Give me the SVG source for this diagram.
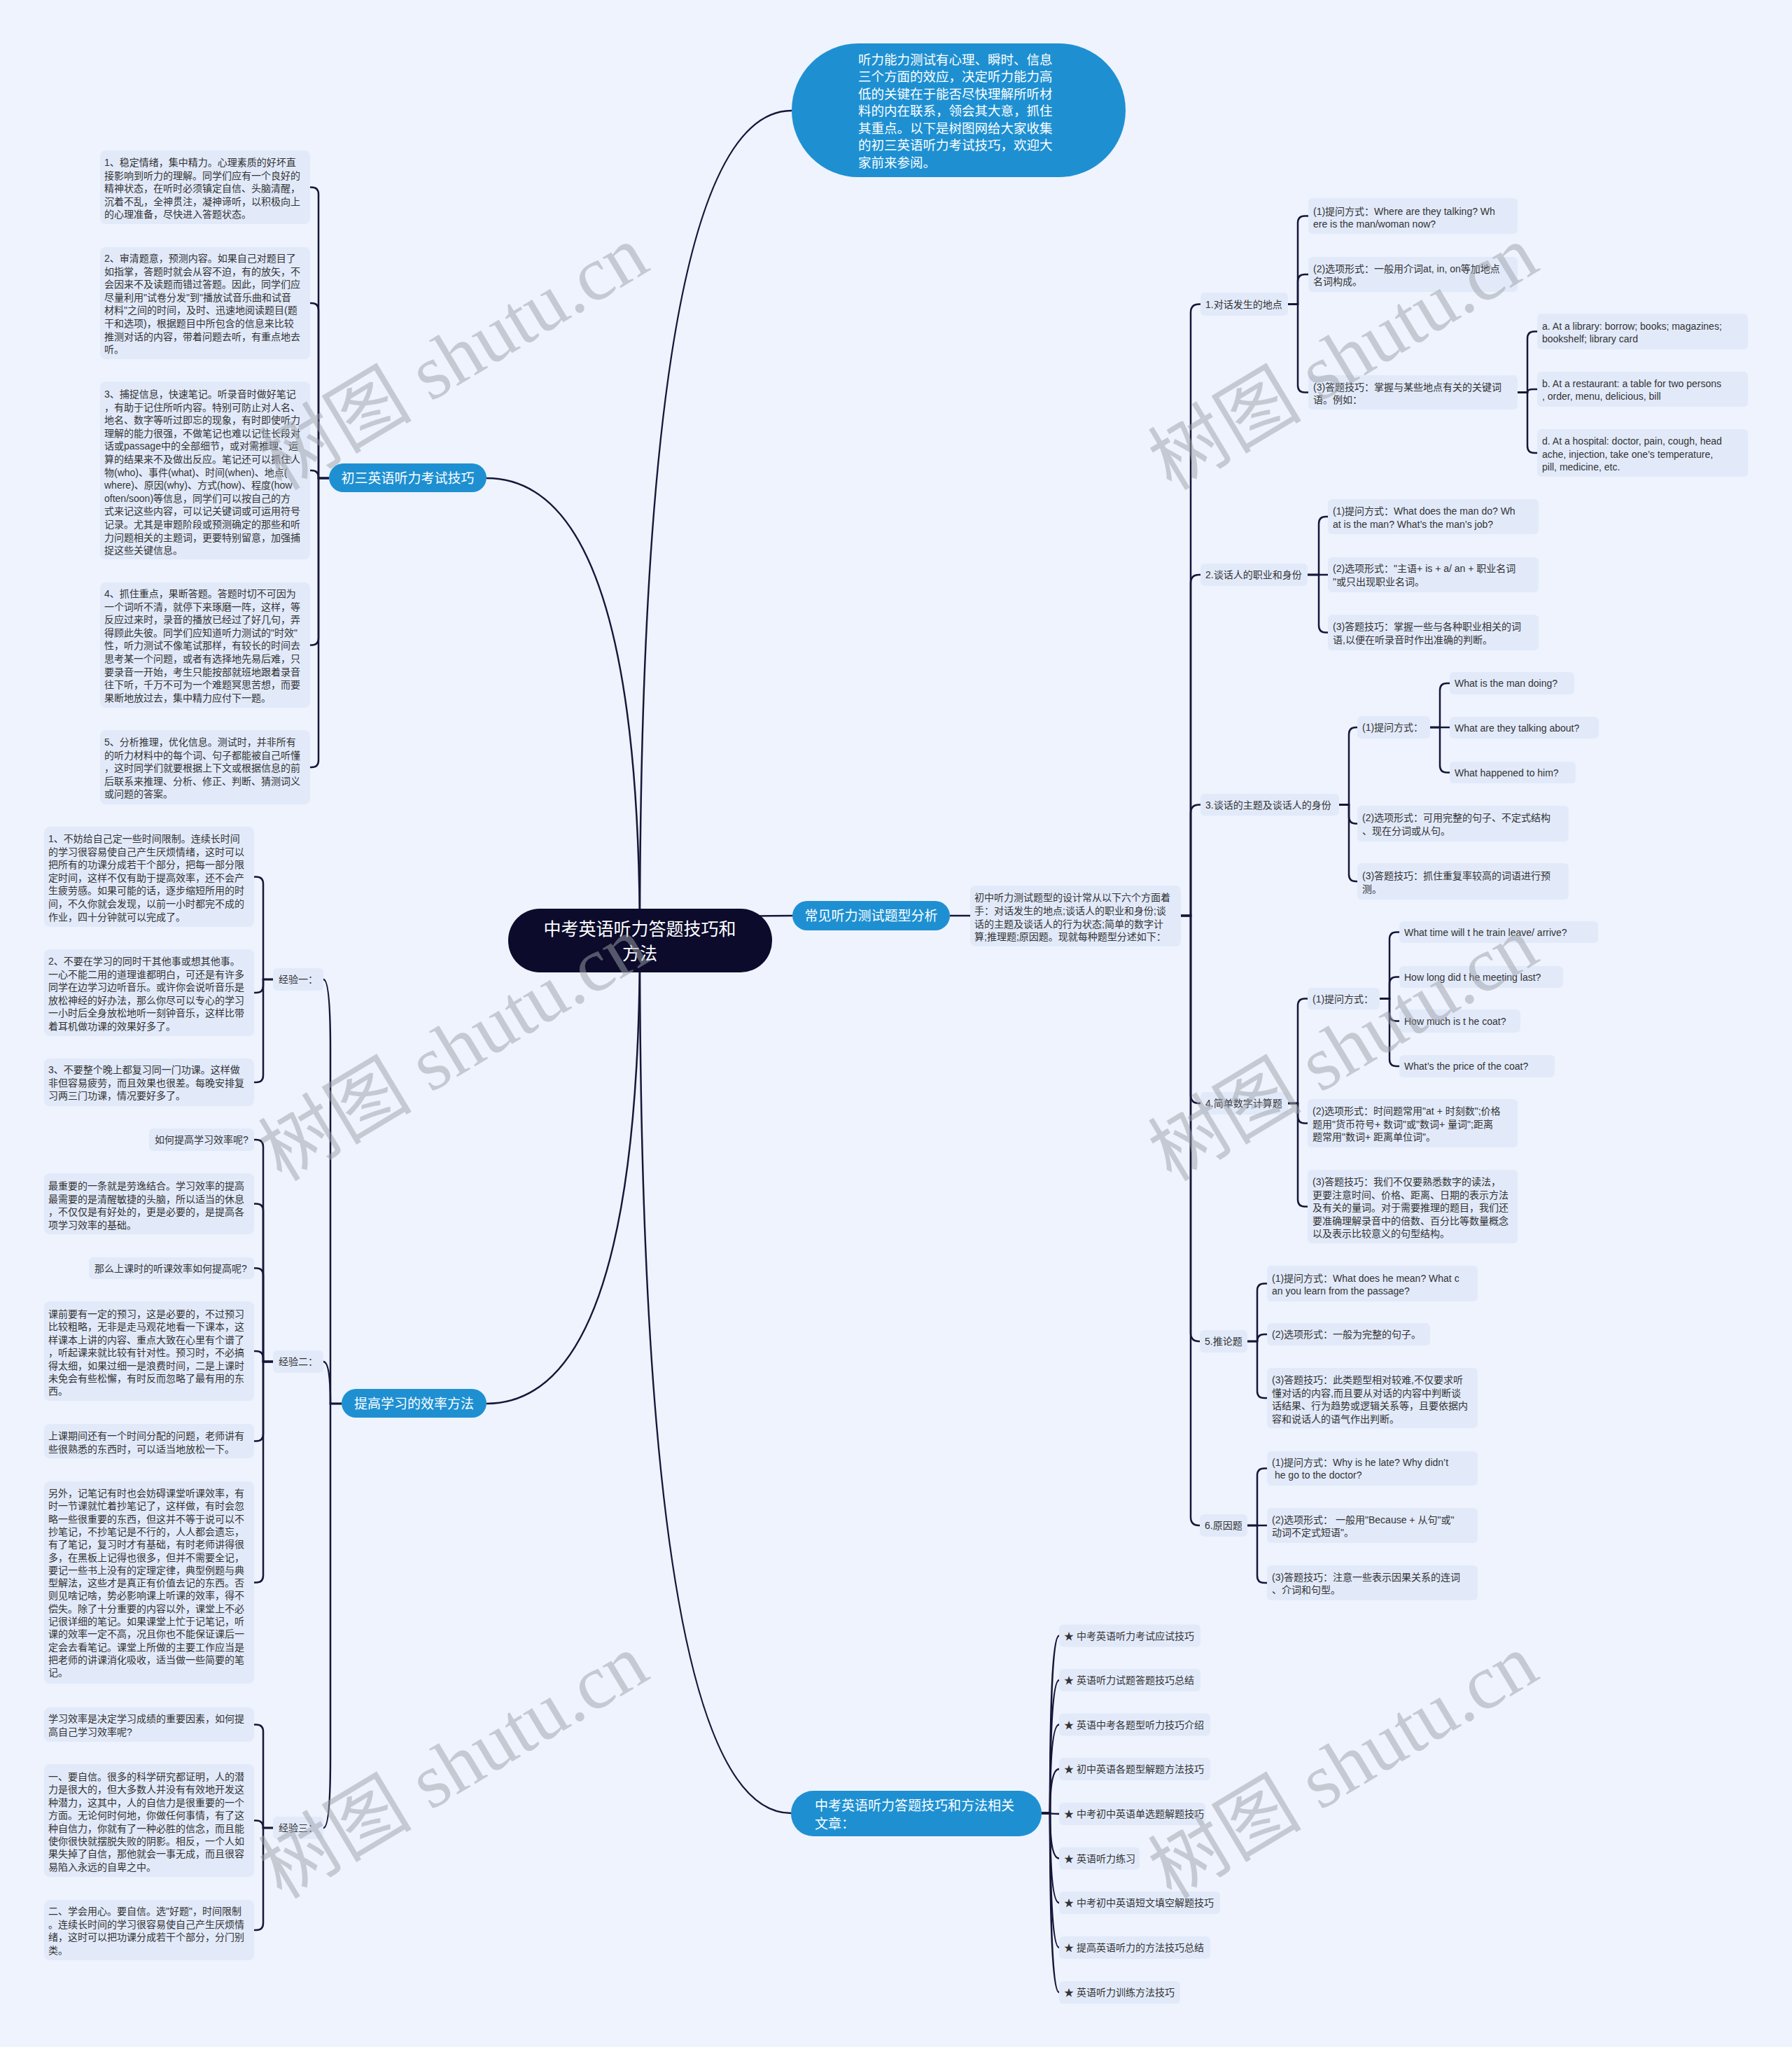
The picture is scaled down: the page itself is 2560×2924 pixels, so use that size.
<svg xmlns="http://www.w3.org/2000/svg" width="2560" height="2924" viewBox="0 0 2560 2924">
<defs>
<style>
.bg{fill:#EEF3FD}
.box{fill:#E2EAFA}
.t{font-family:"Liberation Sans","Noto Sans CJK SC",sans-serif;font-size:14px;fill:#333}
.pill{fill:#1E90D2}
.pt{font-family:"Liberation Sans","Noto Sans CJK SC",sans-serif;font-size:19px;fill:#fff}
.c{fill:none;stroke:#16163a;stroke-width:2.5}
.wm{font-family:"Liberation Serif","Noto Sans CJK SC",serif;font-size:110px;fill:#9ea2a9;opacity:0.5}
</style>
</defs>
<rect class="bg" x="0" y="0" width="2560" height="2924"/>

<g id="connectors">
<!-- root -->
<path class="c" d="M914 1343 Q914 158 1131 158"/>
<path class="c" d="M914 1343 Q914 1308 1132 1308"/>
<path class="c" d="M914 1343 Q914 2590 1130 2590"/>
<path class="c" d="M914 1343 Q914 683 695 683"/>
<path class="c" d="M914 1343 Q914 2005 695 2005"/>
<!-- branch to intro -->
<path class="c" d="M1357 1308 H1386"/>
<!-- main spine -->
<path class="c" d="M1687 1308 H1701 V446.5 Q1701 434.5 1713 434.5 H1715"/>
<path class="c" d="M1687 1308 H1701 V833 Q1701 821 1713 821 H1715"/>
<path class="c" d="M1687 1308 H1701 V1161.5 Q1701 1149.5 1713 1149.5 H1715"/>
<path class="c" d="M1687 1308 H1701 V1564 Q1701 1576 1713 1576 H1715"/>
<path class="c" d="M1687 1308 H1701 V1904 Q1701 1916 1713 1916 H1715"/>
<path class="c" d="M1687 1308 H1701 V2167 Q1701 2179 1713 2179 H1715"/>
<!-- I1 -->
<path class="c" d="M1840 434.5 H1854 V318.5 Q1854 308.5 1864 308.5 H1869"/>
<path class="c" d="M1840 434.5 H1854 V402 Q1854 392 1864 392 H1869"/>
<path class="c" d="M1840 434.5 H1854 V550.5 Q1854 560.5 1864 560.5 H1869"/>
<path class="c" d="M2168 560.5 H2182 V483.5 Q2182 473.5 2192 473.5 H2196"/>
<path class="c" d="M2168 560.5 H2182 Q2182 556 2190 556 H2196"/>
<path class="c" d="M2168 560.5 H2182 V637 Q2182 647 2192 647 H2196"/>
<!-- I2 -->
<path class="c" d="M1868 821 H1884 V748 Q1884 738 1894 738 H1897"/>
<path class="c" d="M1868 821 H1897"/>
<path class="c" d="M1868 821 H1884 V893.5 Q1884 903.5 1894 903.5 H1897"/>
<!-- I3 -->
<path class="c" d="M1913 1149.5 H1927 V1049 Q1927 1039 1937 1039 H1939"/>
<path class="c" d="M1913 1149.5 H1927 V1166.5 Q1927 1176.5 1937 1176.5 H1939"/>
<path class="c" d="M1913 1149.5 H1927 V1249 Q1927 1259 1937 1259 H1939"/>
<path class="c" d="M2043 1039 H2057 V986 Q2057 976 2067 976 H2071"/>
<path class="c" d="M2043 1039 H2071"/>
<path class="c" d="M2043 1039 H2057 V1093.5 Q2057 1103.5 2067 1103.5 H2071"/>
<!-- I4 -->
<path class="c" d="M1840 1576 H1854 V1436.5 Q1854 1426.5 1864 1426.5 H1868"/>
<path class="c" d="M1840 1576 H1854 V1594.5 Q1854 1604.5 1864 1604.5 H1868"/>
<path class="c" d="M1840 1576 H1854 V1713.5 Q1854 1723.5 1864 1723.5 H1868"/>
<path class="c" d="M1971 1426.5 H1985 V1341.5 Q1985 1331.5 1995 1331.5 H1999"/>
<path class="c" d="M1971 1426.5 H1985 V1405.5 Q1985 1395.5 1995 1395.5 H1999"/>
<path class="c" d="M1971 1426.5 H1985 V1448.5 Q1985 1458.5 1995 1458.5 H1999"/>
<path class="c" d="M1971 1426.5 H1985 V1513 Q1985 1523 1995 1523 H1999"/>
<!-- I5 -->
<path class="c" d="M1782 1916 H1796 V1843.5 Q1796 1833.5 1806 1833.5 H1810"/>
<path class="c" d="M1782 1916 H1796 Q1796 1906 1806 1906 H1810"/>
<path class="c" d="M1782 1916 H1796 V1987 Q1796 1997 1806 1997 H1810"/>
<!-- I6 -->
<path class="c" d="M1782 2179 H1796 V2107.5 Q1796 2097.5 1806 2097.5 H1810"/>
<path class="c" d="M1782 2179 H1810"/>
<path class="c" d="M1782 2179 H1796 V2251 Q1796 2261 1806 2261 H1810"/>
<!-- related list -->
<path class="c" d="M1488 2590 H1500 Q1500 2336.5 1513 2336.5"/>
<path class="c" d="M1488 2590 H1500 Q1500 2400 1513 2400"/>
<path class="c" d="M1488 2590 H1500 Q1500 2463.5 1513 2463.5"/>
<path class="c" d="M1488 2590 H1500 Q1500 2527 1513 2527"/>
<path class="c" d="M1488 2590 H1500 Q1500 2591 1513 2591"/>
<path class="c" d="M1488 2590 H1500 Q1500 2654.5 1513 2654.5"/>
<path class="c" d="M1488 2590 H1500 Q1500 2718 1513 2718"/>
<path class="c" d="M1488 2590 H1500 Q1500 2782 1513 2782"/>
<path class="c" d="M1488 2590 H1500 Q1500 2846 1513 2846"/>
<!-- left branch 1 -->
<path class="c" d="M470 683 H455 V277.5 Q455 267.5 445 267.5 H443"/>
<path class="c" d="M470 683 H455 V443 Q455 433 445 433 H443"/>
<path class="c" d="M470 683 H455 V682 Q455 672 445 672 H443"/>
<path class="c" d="M470 683 H455 V911.5 Q455 921.5 445 921.5 H443"/>
<path class="c" d="M470 683 H455 V1086 Q455 1096 445 1096 H443"/>
<!-- left branch 2 -->
<path class="c" d="M488 2005 H472 V1500 Q472 1399 462 1399"/>
<path class="c" d="M488 2005 H472 Q472 1945 462 1945"/>
<path class="c" d="M488 2005 H472 V2511 Q472 2611 462 2611"/>
<!-- 经验一 -->
<path class="c" d="M390 1399 H376 V1262.5 Q376 1252.5 366 1252.5 H363"/>
<path class="c" d="M390 1399 H376 V1408 Q376 1418 366 1418 H363"/>
<path class="c" d="M390 1399 H376 V1536 Q376 1546 366 1546 H363"/>
<!-- 经验二 -->
<path class="c" d="M390 1945 H376 V1638 Q376 1628 366 1628 H363"/>
<path class="c" d="M390 1945 H376 V1729.5 Q376 1719.5 366 1719.5 H363"/>
<path class="c" d="M390 1945 H376 V1821.5 Q376 1811.5 366 1811.5 H363"/>
<path class="c" d="M390 1945 H376 V1940 Q376 1930 366 1930 H363"/>
<path class="c" d="M390 1945 H376 V2048.5 Q376 2058.5 366 2058.5 H363"/>
<path class="c" d="M390 1945 H376 V2250.5 Q376 2260.5 366 2260.5 H363"/>
<!-- 经验三 -->
<path class="c" d="M390 2611 H376 V2473.5 Q376 2463.5 366 2463.5 H363"/>
<path class="c" d="M390 2611 H376 Q376 2600.5 366 2600.5 H363"/>
<path class="c" d="M390 2611 H376 V2747 Q376 2757 366 2757 H363"/>
</g>

<g id="root">
<rect x="726" y="1298" width="377" height="91" rx="45" fill="#0C0B2C"/>
<text font-family="Liberation Sans,Noto Sans CJK SC,sans-serif" font-size="25" fill="#fff" text-anchor="middle"><tspan x="914" y="1336">中考英语听力答题技巧和</tspan><tspan x="914" y="1371">方法</tspan></text>
</g>

<g id="intro-bubble">
<rect class="pill" x="1131" y="62" width="477" height="191" rx="95.5"/>
<text font-family="Liberation Sans,Noto Sans CJK SC,sans-serif" font-size="18.5" fill="#fff">
<tspan x="1226" y="91.5">听力能力测试有心理、瞬时、信息</tspan>
<tspan x="1226" y="116">三个方面的效应，决定听力能力高</tspan>
<tspan x="1226" y="140.5">低的关键在于能否尽快理解所听材</tspan>
<tspan x="1226" y="165">料的内在联系，领会其大意，抓住</tspan>
<tspan x="1226" y="189.5">其重点。以下是树图网给大家收集</tspan>
<tspan x="1226" y="214">的初三英语听力考试技巧，欢迎大</tspan>
<tspan x="1226" y="238.5">家前来参阅。</tspan>
</text>
</g>

<g id="branch-types">
<rect class="pill" x="1132" y="1287" width="225" height="42" rx="21"/>
<text class="pt" x="1244.5" y="1315" text-anchor="middle">常见听力测试题型分析</text>
</g>
<g id="intro-types">
<rect class="box" x="1386" y="1265" width="301" height="87" rx="8"/>
<text class="t"><tspan x="1392" y="1287">初中听力测试题型的设计常从以下六个方面着</tspan><tspan x="1392" y="1305.8">手：对话发生的地点;谈话人的职业和身份;谈</tspan><tspan x="1392" y="1324.6">话的主题及谈话人的行为状态;简单的数字计</tspan><tspan x="1392" y="1343.4">算;推理题;原因题。现就每种题型分述如下：</tspan></text>
</g>

<!-- Item 1 -->
<g id="i1">
<rect class="box" x="1715" y="418" width="125" height="33" rx="6"/>
<text class="t" x="1722" y="440">1.对话发生的地点</text>
</g>
<g id="i1-1">
<rect class="box" x="1869" y="283" width="299" height="51" rx="6"/>
<text class="t"><tspan x="1876" y="307">(1)提问方式：Where are they talking? Wh</tspan><tspan x="1876" y="325">ere is the man/woman now?</tspan></text>
</g>
<g id="i1-2">
<rect class="box" x="1869" y="367" width="299" height="50" rx="6"/>
<text class="t"><tspan x="1876" y="389">(2)选项形式：一般用介词at, in, on等加地点</tspan><tspan x="1876" y="407">名词构成。</tspan></text>
</g>
<g id="i1-3">
<rect class="box" x="1869" y="536" width="299" height="49" rx="6"/>
<text class="t"><tspan x="1876" y="558">(3)答题技巧：掌握与某些地点有关的关键词</tspan><tspan x="1876" y="576">语。例如：</tspan></text>
</g>
<g id="i1-3a">
<rect class="box" x="2196" y="448" width="301" height="51" rx="6"/>
<text class="t"><tspan x="2203" y="471">a. At a library: borrow; books; magazines;</tspan><tspan x="2203" y="489">bookshelf; library card</tspan></text>
</g>
<g id="i1-3b">
<rect class="box" x="2196" y="531" width="301" height="50" rx="6"/>
<text class="t"><tspan x="2203" y="553">b. At a restaurant: a table for two persons</tspan><tspan x="2203" y="571">, order, menu, delicious, bill</tspan></text>
</g>
<g id="i1-3d">
<rect class="box" x="2196" y="613" width="301" height="68" rx="6"/>
<text class="t"><tspan x="2203" y="635">d. At a hospital: doctor, pain, cough, head</tspan><tspan x="2203" y="653.5">ache, injection, take one’s temperature,</tspan><tspan x="2203" y="672">pill, medicine, etc.</tspan></text>
</g>

<!-- Item 2 -->
<g id="i2">
<rect class="box" x="1715" y="805" width="153" height="32" rx="6"/>
<text class="t" x="1722" y="826">2.谈话人的职业和身份</text>
</g>
<g id="i2-1">
<rect class="box" x="1897" y="713" width="301" height="50" rx="6"/>
<text class="t"><tspan x="1904" y="735">(1)提问方式：What does the man do? Wh</tspan><tspan x="1904" y="754">at is the man? What’s the man’s job?</tspan></text>
</g>
<g id="i2-2">
<rect class="box" x="1897" y="796" width="301" height="50" rx="6"/>
<text class="t"><tspan x="1904" y="817">(2)选项形式："主语+ is + a/ an + 职业名词</tspan><tspan x="1904" y="836">"或只出现职业名词。</tspan></text>
</g>
<g id="i2-3">
<rect class="box" x="1897" y="878" width="301" height="51" rx="6"/>
<text class="t"><tspan x="1904" y="900">(3)答题技巧：掌握一些与各种职业相关的词</tspan><tspan x="1904" y="919">语,以便在听录音时作出准确的判断。</tspan></text>
</g>

<!-- Item 3 -->
<g id="i3">
<rect class="box" x="1715" y="1134" width="198" height="31" rx="6"/>
<text class="t" x="1722" y="1154.5">3.谈话的主题及谈话人的身份</text>
</g>
<g id="i3-1">
<rect class="box" x="1939" y="1023" width="104" height="32" rx="6"/>
<text class="t" x="1946" y="1044">(1)提问方式：</text>
</g>
<g id="i3-1a">
<rect class="box" x="2071" y="960" width="178" height="32" rx="6"/>
<text class="t" x="2078" y="981">What is the man doing?</text>
</g>
<g id="i3-1b">
<rect class="box" x="2071" y="1024" width="213" height="31" rx="6"/>
<text class="t" x="2078" y="1044.5">What are they talking about?</text>
</g>
<g id="i3-1c">
<rect class="box" x="2071" y="1088" width="180" height="31" rx="6"/>
<text class="t" x="2078" y="1108.5">What happened to him?</text>
</g>
<g id="i3-2">
<rect class="box" x="1939" y="1151" width="302" height="51" rx="6"/>
<text class="t"><tspan x="1946" y="1173">(2)选项形式：可用完整的句子、不定式结构</tspan><tspan x="1946" y="1192">、现在分词或从句。</tspan></text>
</g>
<g id="i3-3">
<rect class="box" x="1939" y="1233" width="302" height="52" rx="6"/>
<text class="t"><tspan x="1946" y="1256">(3)答题技巧：抓住重复率较高的词语进行预</tspan><tspan x="1946" y="1275">测。</tspan></text>
</g>

<!-- Item 4 -->
<g id="i4">
<rect class="box" x="1715" y="1560" width="125" height="32" rx="6"/>
<text class="t" x="1722" y="1581">4.简单数字计算题</text>
</g>
<g id="i4-1">
<rect class="box" x="1868" y="1411" width="103" height="31" rx="6"/>
<text class="t" x="1875" y="1431.5">(1)提问方式：</text>
</g>
<g id="i4-1a">
<rect class="box" x="1999" y="1316" width="284" height="31" rx="6"/>
<text class="t" x="2006" y="1336.5">What time will t he train leave/ arrive?</text>
</g>
<g id="i4-1b">
<rect class="box" x="1999" y="1380" width="234" height="31" rx="6"/>
<text class="t" x="2006" y="1400.5">How long did t he meeting last?</text>
</g>
<g id="i4-1c">
<rect class="box" x="1999" y="1442" width="173" height="33" rx="6"/>
<text class="t" x="2006" y="1463.5">How much is t he coat?</text>
</g>
<g id="i4-1d">
<rect class="box" x="1999" y="1507" width="222" height="32" rx="6"/>
<text class="t" x="2006" y="1528">What’s the price of the coat?</text>
</g>
<g id="i4-2">
<rect class="box" x="1868" y="1570" width="300" height="69" rx="6"/>
<text class="t"><tspan x="1875" y="1592">(2)选项形式：时间题常用"at + 时刻数";价格</tspan><tspan x="1875" y="1611">题用"货币符号+ 数词"或"数词+ 量词";距离</tspan><tspan x="1875" y="1629">题常用"数词+ 距离单位词"。</tspan></text>
</g>
<g id="i4-3">
<rect class="box" x="1868" y="1671" width="300" height="105" rx="6"/>
<text class="t"><tspan x="1875" y="1693">(3)答题技巧：我们不仅要熟悉数字的读法，</tspan><tspan x="1875" y="1711.5">更要注意时间、价格、距离、日期的表示方法</tspan><tspan x="1875" y="1730">及有关的量词。对于需要推理的题目，我们还</tspan><tspan x="1875" y="1748.5">要准确理解录音中的倍数、百分比等数量概念</tspan><tspan x="1875" y="1767">以及表示比较意义的句型结构。</tspan></text>
</g>

<!-- Item 5 -->
<g id="i5">
<rect class="box" x="1714" y="1900" width="68" height="32" rx="6"/>
<text class="t" x="1721" y="1921">5.推论题</text>
</g>
<g id="i5-1">
<rect class="box" x="1810" y="1808" width="301" height="51" rx="6"/>
<text class="t"><tspan x="1817" y="1831">(1)提问方式：What does he mean? What c</tspan><tspan x="1817" y="1849">an you learn from the passage?</tspan></text>
</g>
<g id="i5-2">
<rect class="box" x="1810" y="1890" width="233" height="32" rx="6"/>
<text class="t" x="1817" y="1911">(2)选项形式：一般为完整的句子。</text>
</g>
<g id="i5-3">
<rect class="box" x="1810" y="1954" width="301" height="86" rx="6"/>
<text class="t"><tspan x="1817" y="1976">(3)答题技巧：此类题型相对较难,不仅要求听</tspan><tspan x="1817" y="1994.5">懂对话的内容,而且要从对话的内容中判断谈</tspan><tspan x="1817" y="2013">话结果、行为趋势或逻辑关系等，且要依据内</tspan><tspan x="1817" y="2031.5">容和说话人的语气作出判断。</tspan></text>
</g>

<!-- Item 6 -->
<g id="i6">
<rect class="box" x="1714" y="2163" width="68" height="32" rx="6"/>
<text class="t" x="1721" y="2184">6.原因题</text>
</g>
<g id="i6-1">
<rect class="box" x="1810" y="2073" width="301" height="49" rx="6"/>
<text class="t"><tspan x="1817" y="2094">(1)提问方式：Why is he late? Why didn’t</tspan><tspan x="1817" y="2112"> he go to the doctor?</tspan></text>
</g>
<g id="i6-2">
<rect class="box" x="1810" y="2154" width="301" height="50" rx="6"/>
<text class="t"><tspan x="1817" y="2176">(2)选项形式： 一般用"Because + 从句"或"</tspan><tspan x="1817" y="2194">动词不定式短语"。</tspan></text>
</g>
<g id="i6-3">
<rect class="box" x="1810" y="2236" width="301" height="50" rx="6"/>
<text class="t"><tspan x="1817" y="2258">(3)答题技巧：注意一些表示因果关系的连词</tspan><tspan x="1817" y="2276">、介词和句型。</tspan></text>
</g>

<!-- Related articles -->
<g id="branch-related">
<rect class="pill" x="1130" y="2558" width="358" height="65" rx="32"/>
<text class="pt"><tspan x="1164" y="2586">中考英语听力答题技巧和方法相关</tspan><tspan x="1164" y="2612">文章：</tspan></text>
</g>
<g id="r1"><rect class="box" x="1513" y="2320.5" width="202" height="32" rx="6"/><text class="t" x="1520" y="2341.5">★ 中考英语听力考试应试技巧</text></g>
<g id="r2"><rect class="box" x="1513" y="2384" width="202" height="32" rx="6"/><text class="t" x="1520" y="2405">★ 英语听力试题答题技巧总结</text></g>
<g id="r3"><rect class="box" x="1513" y="2447.5" width="216" height="32" rx="6"/><text class="t" x="1520" y="2468.5">★ 英语中考各题型听力技巧介绍</text></g>
<g id="r4"><rect class="box" x="1513" y="2511" width="216" height="32" rx="6"/><text class="t" x="1520" y="2532">★ 初中英语各题型解题方法技巧</text></g>
<g id="r5"><rect class="box" x="1513" y="2575" width="209" height="32" rx="6"/><text class="t" x="1520" y="2596">★ 中考初中英语单选题解题技巧</text></g>
<g id="r6"><rect class="box" x="1513" y="2638.5" width="115" height="32" rx="6"/><text class="t" x="1520" y="2659.5">★ 英语听力练习</text></g>
<g id="r7"><rect class="box" x="1513" y="2702" width="230" height="32" rx="6"/><text class="t" x="1520" y="2723">★ 中考初中英语短文填空解题技巧</text></g>
<g id="r8"><rect class="box" x="1513" y="2766" width="216" height="32" rx="6"/><text class="t" x="1520" y="2787">★ 提高英语听力的方法技巧总结</text></g>
<g id="r9"><rect class="box" x="1513" y="2830" width="173" height="32" rx="6"/><text class="t" x="1520" y="2851">★ 英语听力训练方法技巧</text></g>

<!-- Left branch 1 -->
<g id="branch-tips">
<rect class="pill" x="470" y="662" width="225" height="41" rx="20.5"/>
<text class="pt" x="582.5" y="690" text-anchor="middle">初三英语听力考试技巧</text>
</g>
<g id="tip1">
<rect class="box" x="143" y="215" width="300" height="105" rx="8"/>
<text class="t"><tspan x="149" y="237">1、稳定情绪，集中精力。心理素质的好坏直</tspan><tspan x="149" y="255.6">接影响到听力的理解。同学们应有一个良好的</tspan><tspan x="149" y="274.2">精神状态，在听时必须镇定自信、头脑清醒，</tspan><tspan x="149" y="292.8">沉着不乱，全神贯注，凝神谛听，以积极向上</tspan><tspan x="149" y="311.4">的心理准备，尽快进入答题状态。</tspan></text>
</g>
<g id="tip2">
<rect class="box" x="143" y="353" width="300" height="160" rx="8"/>
<text class="t"><tspan x="149" y="374">2、审清题意，预测内容。如果自己对题目了</tspan><tspan x="149" y="392.6">如指掌，答题时就会从容不迫，有的放矢，不</tspan><tspan x="149" y="411.2">会因来不及读题而错过答题。因此，同学们应</tspan><tspan x="149" y="429.8">尽量利用"试卷分发"到"播放试音乐曲和试音</tspan><tspan x="149" y="448.4">材料"之间的时间，及时、迅速地阅读题目(题</tspan><tspan x="149" y="467">干和选项)，根据题目中所包含的信息来比较</tspan><tspan x="149" y="485.6">推测对话的内容，带着问题去听，有重点地去</tspan><tspan x="149" y="504.2">听。</tspan></text>
</g>
<g id="tip3">
<rect class="box" x="143" y="545" width="300" height="254" rx="8"/>
<text class="t"><tspan x="149" y="568">3、捕捉信息，快速笔记。听录音时做好笔记</tspan><tspan x="149" y="586.6">，有助于记住所听内容。特别可防止对人名、</tspan><tspan x="149" y="605.2">地名、数字等听过即忘的现象，有时即使听力</tspan><tspan x="149" y="623.8">理解的能力很强，不做笔记也难以记住长段对</tspan><tspan x="149" y="642.4">话或passage中的全部细节，或对需推理、运</tspan><tspan x="149" y="661">算的结果来不及做出反应。笔记还可以抓住人</tspan><tspan x="149" y="679.6">物(who)、事件(what)、时间(when)、地点(</tspan><tspan x="149" y="698.2">where)、原因(why)、方式(how)、程度(how</tspan><tspan x="149" y="716.8">often/soon)等信息，同学们可以按自己的方</tspan><tspan x="149" y="735.4">式来记这些内容，可以记关键词或可运用符号</tspan><tspan x="149" y="754">记录。尤其是审题阶段或预测确定的那些和听</tspan><tspan x="149" y="772.6">力问题相关的主题词，更要特别留意，加强捕</tspan><tspan x="149" y="791.2">捉这些关键信息。</tspan></text>
</g>
<g id="tip4">
<rect class="box" x="143" y="832" width="300" height="179" rx="8"/>
<text class="t"><tspan x="149" y="853">4、抓住重点，果断答题。答题时切不可因为</tspan><tspan x="149" y="871.6">一个词听不清，就停下来琢磨一阵，这样，等</tspan><tspan x="149" y="890.2">反应过来时，录音的播放已经过了好几句，弄</tspan><tspan x="149" y="908.8">得顾此失彼。同学们应知道听力测试的"时效"</tspan><tspan x="149" y="927.4">性，听力测试不像笔试那样，有较长的时间去</tspan><tspan x="149" y="946">思考某一个问题，或者有选择地先易后难，只</tspan><tspan x="149" y="964.6">要录音一开始，考生只能按部就班地跟着录音</tspan><tspan x="149" y="983.2">往下听，千万不可为一个难题冥思苦想，而要</tspan><tspan x="149" y="1001.8">果断地放过去，集中精力应付下一题。</tspan></text>
</g>
<g id="tip5">
<rect class="box" x="143" y="1043" width="300" height="106" rx="8"/>
<text class="t"><tspan x="149" y="1065">5、分析推理，优化信息。测试时，并非所有</tspan><tspan x="149" y="1083.6">的听力材料中的每个词、句子都能被自己听懂</tspan><tspan x="149" y="1102.2">，这时同学们就要根据上下文或根据信息的前</tspan><tspan x="149" y="1120.8">后联系来推理、分析、修正、判断、猜测词义</tspan><tspan x="149" y="1139.4">或问题的答案。</tspan></text>
</g>

<!-- Left branch 2 -->
<g id="branch-efficiency">
<rect class="pill" x="488" y="1984" width="207" height="41" rx="20.5"/>
<text class="pt" x="591.5" y="2012" text-anchor="middle">提高学习的效率方法</text>
</g>
<g id="exp1"><rect class="box" x="390" y="1383" width="72" height="32" rx="6"/><text class="t" x="398" y="1404">经验一：</text></g>
<g id="exp2"><rect class="box" x="390" y="1929" width="72" height="32" rx="6"/><text class="t" x="398" y="1950">经验二：</text></g>
<g id="exp3"><rect class="box" x="390" y="2595" width="72" height="32" rx="6"/><text class="t" x="398" y="2616">经验三：</text></g>

<g id="e1a">
<rect class="box" x="63" y="1181" width="300" height="143" rx="8"/>
<text class="t"><tspan x="69" y="1203">1、不妨给自己定一些时间限制。连续长时间</tspan><tspan x="69" y="1221.6">的学习很容易使自己产生厌烦情绪，这时可以</tspan><tspan x="69" y="1240.2">把所有的功课分成若干个部分，把每一部分限</tspan><tspan x="69" y="1258.8">定时间，这样不仅有助于提高效率，还不会产</tspan><tspan x="69" y="1277.4">生疲劳感。如果可能的话，逐步缩短所用的时</tspan><tspan x="69" y="1296">间，不久你就会发现，以前一小时都完不成的</tspan><tspan x="69" y="1314.6">作业，四十分钟就可以完成了。</tspan></text>
</g>
<g id="e1b">
<rect class="box" x="63" y="1356" width="300" height="124" rx="8"/>
<text class="t"><tspan x="69" y="1378">2、不要在学习的同时干其他事或想其他事。</tspan><tspan x="69" y="1396.6">一心不能二用的道理谁都明白，可还是有许多</tspan><tspan x="69" y="1415.2">同学在边学习边听音乐。或许你会说听音乐是</tspan><tspan x="69" y="1433.8">放松神经的好办法，那么你尽可以专心的学习</tspan><tspan x="69" y="1452.4">一小时后全身放松地听一刻钟音乐，这样比带</tspan><tspan x="69" y="1471">着耳机做功课的效果好多了。</tspan></text>
</g>
<g id="e1c">
<rect class="box" x="63" y="1512" width="300" height="68" rx="8"/>
<text class="t"><tspan x="69" y="1533">3、不要整个晚上都复习同一门功课。这样做</tspan><tspan x="69" y="1551.6">非但容易疲劳，而且效果也很差。每晚安排复</tspan><tspan x="69" y="1570.2">习两三门功课，情况要好多了。</tspan></text>
</g>

<g id="e2a"><rect class="box" x="213" y="1612" width="150" height="32" rx="6"/><text class="t" x="221" y="1633">如何提高学习效率呢?</text></g>
<g id="e2b">
<rect class="box" x="63" y="1676" width="300" height="87" rx="8"/>
<text class="t"><tspan x="69" y="1699">最重要的一条就是劳逸结合。学习效率的提高</tspan><tspan x="69" y="1717.6">最需要的是清醒敏捷的头脑，所以适当的休息</tspan><tspan x="69" y="1736.2">，不仅仅是有好处的，更是必要的，是提高各</tspan><tspan x="69" y="1754.8">项学习效率的基础。</tspan></text>
</g>
<g id="e2c"><rect class="box" x="127" y="1796" width="236" height="31" rx="6"/><text class="t" x="135" y="1816.5">那么上课时的听课效率如何提高呢?</text></g>
<g id="e2d">
<rect class="box" x="63" y="1859" width="300" height="142" rx="8"/>
<text class="t"><tspan x="69" y="1882">课前要有一定的预习，这是必要的，不过预习</tspan><tspan x="69" y="1900.4">比较粗略，无非是走马观花地看一下课本，这</tspan><tspan x="69" y="1918.8">样课本上讲的内容、重点大致在心里有个谱了</tspan><tspan x="69" y="1937.2">，听起课来就比较有针对性。预习时，不必搞</tspan><tspan x="69" y="1955.6">得太细，如果过细一是浪费时间，二是上课时</tspan><tspan x="69" y="1974">未免会有些松懈，有时反而忽略了最有用的东</tspan><tspan x="69" y="1992.4">西。</tspan></text>
</g>
<g id="e2e">
<rect class="box" x="63" y="2034" width="300" height="49" rx="8"/>
<text class="t"><tspan x="69" y="2056">上课期间还有一个时间分配的问题，老师讲有</tspan><tspan x="69" y="2074.6">些很熟悉的东西时，可以适当地放松一下。</tspan></text>
</g>
<g id="e2f">
<rect class="box" x="63" y="2116" width="300" height="289" rx="8"/>
<text class="t"><tspan x="69" y="2138">另外，记笔记有时也会妨碍课堂听课效率，有</tspan><tspan x="69" y="2156.3">时一节课就忙着抄笔记了，这样做，有时会忽</tspan><tspan x="69" y="2174.6">略一些很重要的东西，但这并不等于说可以不</tspan><tspan x="69" y="2192.9">抄笔记，不抄笔记是不行的，人人都会遗忘，</tspan><tspan x="69" y="2211.2">有了笔记，复习时才有基础，有时老师讲得很</tspan><tspan x="69" y="2229.5">多，在黑板上记得也很多，但并不需要全记，</tspan><tspan x="69" y="2247.8">要记一些书上没有的定理定律，典型例题与典</tspan><tspan x="69" y="2266.1">型解法，这些才是真正有价值去记的东西。否</tspan><tspan x="69" y="2284.4">则见啥记啥，势必影响课上听课的效率，得不</tspan><tspan x="69" y="2302.7">偿失。除了十分重要的内容以外，课堂上不必</tspan><tspan x="69" y="2321">记很详细的笔记。如果课堂上忙于记笔记，听</tspan><tspan x="69" y="2339.3">课的效率一定不高，况且你也不能保证课后一</tspan><tspan x="69" y="2357.6">定会去看笔记。课堂上所做的主要工作应当是</tspan><tspan x="69" y="2375.9">把老师的讲课消化吸收，适当做一些简要的笔</tspan><tspan x="69" y="2394.2">记。</tspan></text>
</g>

<g id="e3a">
<rect class="box" x="63" y="2439" width="300" height="49" rx="8"/>
<text class="t"><tspan x="69" y="2460">学习效率是决定学习成绩的重要因素，如何提</tspan><tspan x="69" y="2478.6">高自己学习效率呢?</tspan></text>
</g>
<g id="e3b">
<rect class="box" x="63" y="2520" width="300" height="161" rx="8"/>
<text class="t"><tspan x="69" y="2543">一、要自信。很多的科学研究都证明，人的潜</tspan><tspan x="69" y="2561.4">力是很大的，但大多数人并没有有效地开发这</tspan><tspan x="69" y="2579.8">种潜力，这其中，人的自信力是很重要的一个</tspan><tspan x="69" y="2598.2">方面。无论何时何地，你做任何事情，有了这</tspan><tspan x="69" y="2616.6">种自信力，你就有了一种必胜的信念，而且能</tspan><tspan x="69" y="2635">使你很快就摆脱失败的阴影。相反，一个人如</tspan><tspan x="69" y="2653.4">果失掉了自信，那他就会一事无成，而且很容</tspan><tspan x="69" y="2671.8">易陷入永远的自卑之中。</tspan></text>
</g>
<g id="e3c">
<rect class="box" x="63" y="2714" width="300" height="86" rx="8"/>
<text class="t"><tspan x="69" y="2735">二、学会用心。要自信。选"好题"，时间限制</tspan><tspan x="69" y="2753.6">。连续长时间的学习很容易使自己产生厌烦情</tspan><tspan x="69" y="2772.2">绪，这时可以把功课分成若干个部分，分门别</tspan><tspan x="69" y="2790.8">类。</tspan></text>
</g>

<g id="watermarks">
<text class="wm" x="649" y="548" text-anchor="middle" transform="rotate(-31 649 513)">树图 shutu.cn</text>
<text class="wm" x="1920" y="548" text-anchor="middle" transform="rotate(-31 1920 513)">树图 shutu.cn</text>
<text class="wm" x="649" y="1535" text-anchor="middle" transform="rotate(-31 649 1500)">树图 shutu.cn</text>
<text class="wm" x="1920" y="1535" text-anchor="middle" transform="rotate(-31 1920 1500)">树图 shutu.cn</text>
<text class="wm" x="649" y="2560" text-anchor="middle" transform="rotate(-31 649 2525)">树图 shutu.cn</text>
<text class="wm" x="1920" y="2560" text-anchor="middle" transform="rotate(-31 1920 2525)">树图 shutu.cn</text>
</g>
</svg>
